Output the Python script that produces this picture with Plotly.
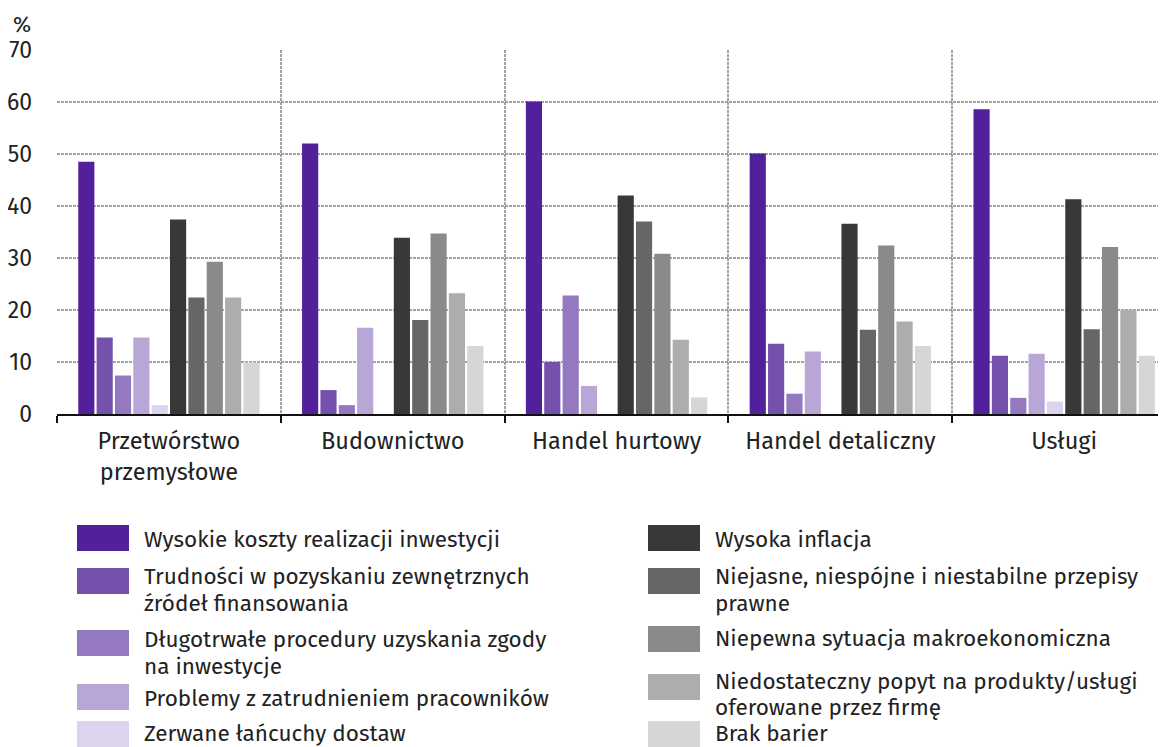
import plotly.graph_objects as go

# ---------------- data ----------------
categories = ["Przetwórstwo<br>przemysłowe", "Budownictwo", "Handel hurtowy",
              "Handel detaliczny", "Usługi"]

wysokie_koszty = [48.5, 52.0, 60.1, 50.1, 58.6]
trudnosci_finansowanie = [14.7, 4.6, 10.0, 13.5, 11.2]
dlugotrwale_procedury = [7.4, 1.7, 22.8, 3.9, 3.1]
problemy_zatrudnienie = [14.7, 16.6, 5.4, 12.0, 11.6]
zerwane_lancuchy = [1.7, 0.0, 0.0, 0.0, 2.4]
wysoka_inflacja = [37.4, 33.9, 42.0, 36.6, 41.3]
niejasne_przepisy = [22.4, 18.1, 37.0, 16.2, 16.3]
niepewna_sytuacja = [29.3, 34.7, 30.8, 32.4, 32.1]
niedostateczny_popyt = [22.4, 23.2, 14.3, 17.8, 20.0]
brak_barier = [9.9, 13.1, 3.2, 13.1, 11.2]

series_names = [
    "Wysokie koszty realizacji inwestycji",
    "Trudności w pozyskaniu zewnętrznych<br>źródeł finansowania",
    "Długotrwałe procedury uzyskania zgody<br>na inwestycje",
    "Problemy z zatrudnieniem pracowników",
    "Zerwane łańcuchy dostaw",
    "Wysoka inflacja",
    "Niejasne, niespójne i niestabilne przepisy<br>prawne",
    "Niepewna sytuacja makroekonomiczna",
    "Niedostateczny popyt na produkty/usługi<br>oferowane przez firmę",
    "Brak barier",
]
series_values = [wysokie_koszty, trudnosci_finansowanie, dlugotrwale_procedury,
                 problemy_zatrudnienie, zerwane_lancuchy, wysoka_inflacja,
                 niejasne_przepisy, niepewna_sytuacja, niedostateczny_popyt,
                 brak_barier]
y_ticks = [0, 10, 20, 30, 40, 50, 60, 70]

# ---------------- style ----------------
colors = ["#51209a", "#7351ad", "#9579c0", "#b8a6d7", "#dcd3ec",
          "#383838", "#666666", "#8a8a8a", "#adadad", "#d6d6d6"]
FONT = "Fira Sans, Noto Sans, sans-serif"
TXT = "#222222"
GRID = "#a2a2a2"
OFF = 8                      # page body margin
W, H = 1166 - OFF, 747 - OFF
L, T, B = 57 - OFF, 50 - OFF, 333
R = 0
PW, PH = W - L - R, H - T - B


def px(x):
    """reference-image x pixel -> paper coordinate"""
    return (x - OFF - L) / PW


def py(y):
    """reference-image y pixel -> paper coordinate"""
    return (H - B - (y - OFF)) / PH


fig = go.Figure()
for name, vals, col in zip(series_names, series_values, colors):
    fig.add_trace(go.Bar(
        x=categories, y=vals, name=name.replace("<br>", " "),
        marker=dict(color=col, line=dict(width=0)),
        showlegend=False,
        hovertemplate="%{x}: %{y}<extra></extra>",
    ))

# manual legend (two columns)
swatch_x = [77, 648]
text_x = [142, 713]
swatch_top = [[525, 568, 630, 684, 721], [525, 568, 626, 674, 721]]
line_centers = [[[538], [575, 602], [638, 665], [697], [732]],
                [[538], [575, 602], [637], [680, 706], [732]]]
shapes = []
annotations = []
for i, (name, col) in enumerate(zip(series_names, colors)):
    c, r = divmod(i, 5)
    shapes.append(dict(type="rect", xref="paper", yref="paper",
                       x0=px(swatch_x[c]), x1=px(swatch_x[c] + 52),
                       y0=py(swatch_top[c][r]), y1=py(swatch_top[c][r] + 26),
                       fillcolor=col, line=dict(width=0), layer="above"))
    for line_text, yc in zip(name.split("<br>"), line_centers[c][r]):
        annotations.append(dict(xref="paper", yref="paper",
                                x=px(text_x[c]), y=py(yc + 1),
                                xanchor="left", yanchor="middle", align="left",
                                text=line_text, showarrow=False,
                                font=dict(family=FONT, size=22.5, color=TXT)))

annotations.append(dict(xref="paper", yref="paper", x=px(11), y=py(24),
                        xanchor="left", yanchor="middle", text="%",
                        showarrow=False,
                        font=dict(family=FONT, size=22, color=TXT)))

fig.update_layout(
    width=W, height=H,
    margin=dict(l=L, r=R, t=T, b=B),
    paper_bgcolor="white", plot_bgcolor="white",
    barmode="group", bargap=0.18, bargroupgap=0.12,
    font=dict(family=FONT, size=23, color=TXT),
    shapes=shapes, annotations=annotations,
    showlegend=False,
    xaxis=dict(
        type="category", range=[-0.5, 4.455],
        tickson="boundaries", ticks="outside", ticklen=7, tickwidth=2,
        tickcolor="#111111",
        showgrid=True, gridcolor=GRID, gridwidth=2, griddash="3px,1px",
        showline=True, linecolor="#111111", linewidth=2,
        tickfont=dict(family=FONT, size=23.5, color=TXT),
        ticklabelstandoff=5,
    ),
    yaxis=dict(
        range=[0, 70], tickvals=y_ticks, ticks="",
        showgrid=True, gridcolor=GRID, gridwidth=2, griddash="3px,1px",
        zeroline=False, showline=False,
        tickfont=dict(family=FONT, size=23, color=TXT),
        ticklabelstandoff=24,
    ),
)

fig.write_html("out.html")
